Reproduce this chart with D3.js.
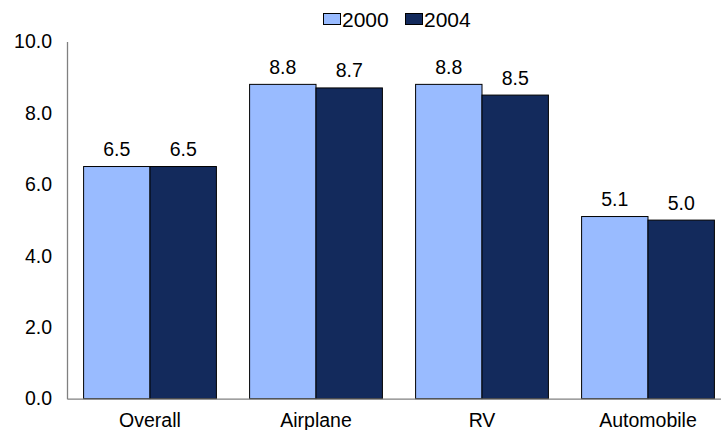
<!DOCTYPE html>
<html>
<head>
<meta charset="utf-8">
<script src="https://cdn.jsdelivr.net/npm/d3@7"></script>
<style>
  body { margin: 0; background: #fff; overflow: hidden; }
  text { font-family: "Liberation Sans", Arial, sans-serif; }
</style>
</head>
<body>
<div class="canvas-container"></div>
<script>
const categories = ["Overall", "Airplane", "RV", "Automobile"]
const seriesNames = ["2000", "2004"]
const values2000 = [6.5, 8.8, 8.8, 5.1]
const values2004 = [6.5, 8.7, 8.5, 5.0]
const yTicks = [0, 2, 4, 6, 8, 10]

const colors = ["#99bbff", "#132a5c"]

const w = 721
const h = 430
const plotLeft = 67
const plotRight = 731
const plotTop = 41.5
const plotBottom = 398.7
const fs = 19.5

const svg = d3
  .select(".canvas-container")
  .append("svg")
  .attr("width", w)
  .attr("height", h)
  .style("display", "block")

const x = d3.scaleBand().domain(categories).range([plotLeft, plotRight]).paddingInner(0.2).paddingOuter(0.1)
const xs = d3.scaleBand().domain(seriesNames).range([0, x.bandwidth()])
const y = d3.scaleLinear().domain([0, 10]).range([plotBottom, plotTop])

const dataset = categories.map((c, i) => ({
  cat: c,
  vals: [
    { key: "2000", v: values2000[i] },
    { key: "2004", v: values2004[i] },
  ],
}))

// bars
const groups = svg
  .selectAll(".grp")
  .data(dataset)
  .enter()
  .append("g")
  .attr("transform", (d) => `translate(${x(d.cat)},0)`)

groups
  .selectAll("rect")
  .data((d) => d.vals)
  .enter()
  .append("rect")
  .attr("x", (d) => xs(d.key))
  .attr("y", (d) => y(d.v))
  .attr("width", xs.bandwidth())
  .attr("height", (d) => plotBottom - y(d.v))
  .attr("fill", (d, i) => colors[i])
  .attr("stroke", "#000")
  .attr("stroke-width", 1)

groups
  .selectAll(".val")
  .data((d) => d.vals)
  .enter()
  .append("text")
  .attr("x", (d) => xs(d.key) + xs.bandwidth() / 2)
  .attr("y", (d) => y(d.v) - 10.5)
  .attr("text-anchor", "middle")
  .attr("font-size", fs)
  .attr("fill", "#000")
  .text((d) => d.v.toFixed(1))

// y axis
const yAxis = svg
  .append("g")
  .attr("transform", `translate(${plotLeft},0)`)
  .call(d3.axisLeft(y).tickValues(yTicks).tickSize(0).tickPadding(15).tickFormat(d3.format(".1f")))
yAxis.select(".domain").attr("stroke", "#808080").attr("stroke-width", 1.3)
yAxis.selectAll("text").attr("font-size", fs).attr("fill", "#000").attr("font-family", "Liberation Sans, Arial, sans-serif")

// x axis
const xAxis = svg
  .append("g")
  .attr("transform", `translate(0,${plotBottom})`)
  .call(d3.axisBottom(x).tickSize(0).tickPadding(14))
xAxis.select(".domain").attr("stroke", "#808080").attr("stroke-width", 1.3)
xAxis.selectAll("text").attr("font-size", fs).attr("fill", "#000").attr("font-family", "Liberation Sans, Arial, sans-serif")

// legend
const legend = svg.append("g").attr("transform", "translate(323,13)")
const lx = [0, 82]
seriesNames.forEach((s, i) => {
  legend
    .append("rect")
    .attr("x", lx[i] + 0.5)
    .attr("y", 0.5)
    .attr("width", 17)
    .attr("height", 11)
    .attr("fill", colors[i])
    .attr("stroke", "#000")
  legend
    .append("text")
    .attr("x", lx[i] + 19)
    .attr("y", 13.5)
    .attr("font-size", 21)
    .text(s)
})
</script>
</body>
</html>
